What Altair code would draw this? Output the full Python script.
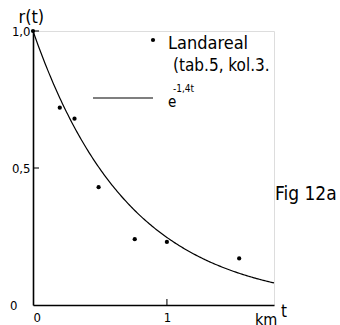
import altair as alt
import pandas as pd

# measured points (Landareal, tab.5, kol.3)
t_vals = [0.0, 0.20, 0.31, 0.49, 0.76, 1.0, 1.54]
r_vals = [1.0, 0.72, 0.68, 0.43, 0.24, 0.23, 0.17]

# axis tick values
y_ticks = [0.0, 0.5, 1.0]
x_ticks = [0, 1]

FONT = "Liberation Sans Narrow, DejaVu Sans Condensed, Liberation Sans"

W, H = 241, 274
xs = alt.Scale(domain=[0, 1.8], nice=False, zero=True)
ys = alt.Scale(domain=[0, 1.0], nice=False)

pts = pd.DataFrame({"t": t_vals, "r": r_vals})

x_axis = alt.Axis(values=x_ticks, title=None,
                  labelFont=FONT, labelFontSize=13, labelPadding=6, ticks=False,
                  domainColor="black", domainWidth=1.6, labelColor="black",
                  labelExpr="format(datum.value, 'd')", grid=False)
y_axis = alt.Axis(values=y_ticks, title="r(t)", titleFont=FONT, titleFontSize=18,
                  titleFontWeight="normal", titleAngle=0, titleX=-15, titleY=-9,
                  titleAlign="left", titleBaseline="alphabetic",
                  labelFont=FONT, labelFontSize=13, ticks=False,
                  labelPadding={"condition": {"test": "datum.value == 0", "value": 16}, "value": 3},
                  domainColor="black", domainWidth=1.6, labelColor="black",
                  labelExpr="datum.value == 0 ? '0' : replace(format(datum.value, '.1f'), '.', ',')",
                  grid=False)

base = alt.Chart(pts)

points = base.mark_circle(size=18, color="black", opacity=1).encode(
    x=alt.X("t:Q", scale=xs, axis=x_axis),
    y=alt.Y("r:Q", scale=ys, axis=y_axis),
)

curve = (
    alt.Chart(alt.sequence(0, 1.805, 0.01, as_="t"))
    .transform_calculate(r="exp(-1.4 * datum.t)")
    .mark_line(color="black", strokeWidth=1.2)
    .encode(x=alt.X("t:Q", scale=xs), y=alt.Y("r:Q", scale=ys))
)

yt = pd.DataFrame({"t": [0.0, 0.0], "r": [0.5, 1.0]})
ytick = alt.Chart(yt).mark_tick(orient="horizontal", size=6, thickness=1.5,
                                color="black", xOffset=3).encode(
    x=alt.X("t:Q", scale=xs), y=alt.Y("r:Q", scale=ys))
xt = pd.DataFrame({"t": [1.0], "r": [0.0]})
xtick = alt.Chart(xt).mark_tick(orient="vertical", size=6, thickness=1.5,
                                color="black", yOffset=-3).encode(
    x=alt.X("t:Q", scale=xs), y=alt.Y("r:Q", scale=ys))

one = pd.DataFrame({"a": [0]})

def txt(s, x, y, size, align="left"):
    return alt.Chart(one).mark_text(text=s, font=FONT, fontSize=size, align=align,
                                    baseline="alphabetic", color="black").encode(
        x=alt.value(x), y=alt.value(y))

leg_dot = alt.Chart(one).mark_circle(size=18, color="black", opacity=1).encode(
    x=alt.value(120), y=alt.value(9))
leg_line = alt.Chart(one).mark_rule(color="black", strokeWidth=1.2).encode(
    x=alt.value(60), x2=alt.value(120), y=alt.value(67))

texts = [
    txt("Landareal", 135, 18, 18),
    txt("(tab.5, kol.3.", 140, 40, 17),
    txt("e", 135, 76, 15),
    txt("-1,4t", 140, 61, 10),
    txt("Fig 12a", 242, 169, 19),
    txt("t", 248, 286, 17),
    txt("km", 222, 294, 16),
]

chart = alt.layer(curve, points, ytick, xtick, leg_dot, leg_line, *texts).properties(
    width=W, height=H,
    autosize=alt.AutoSizeParams(type="none"),
    padding={"left": 33, "top": 31, "right": 66, "bottom": 20},
).configure_view(stroke=None).configure(background="white")

chart.save("out.html", embed_options={"renderer": "svg", "actions": False})
